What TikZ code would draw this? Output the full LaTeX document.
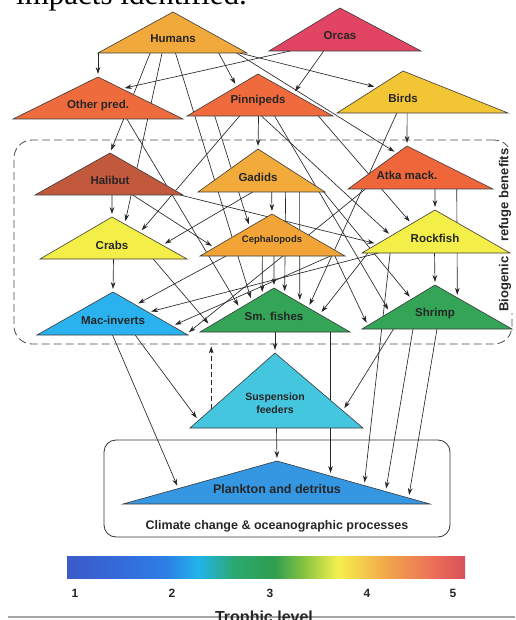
\documentclass[tikz,border=0pt]{standalone}
\usepackage{fontspec}
\setmainfont{Liberation Sans}
\newfontfamily\headserif{Liberation Serif}
\usepackage{xcolor}
\usetikzlibrary{arrows.meta, calc}

\pgfdeclarelayer{edges}
\pgfsetlayers{edges,main}

\definecolor{humcol}{HTML}{F2A93B}
\definecolor{orccol}{HTML}{E24563}
\definecolor{othcol}{HTML}{EE6B3E}
\definecolor{pincol}{HTML}{EF6A3C}
\definecolor{bircol}{HTML}{F2C535}
\definecolor{halcol}{HTML}{C2583C}
\definecolor{gadcol}{HTML}{F2AA3A}
\definecolor{atkcol}{HTML}{EE663A}
\definecolor{crbcol}{HTML}{F4EE48}
\definecolor{cepcol}{HTML}{F2A436}
\definecolor{roccol}{HTML}{F4EE48}
\definecolor{maccol}{HTML}{29B2EE}
\definecolor{smfcol}{HTML}{34A456}
\definecolor{shrcol}{HTML}{34A456}
\definecolor{suscol}{HTML}{45C6DF}
\definecolor{plkcol}{HTML}{3596E2}
\definecolor{outline}{HTML}{3A3A3A}

\definecolor{tla}{HTML}{3B5BC8}
\definecolor{tlb}{HTML}{3569D8}
\definecolor{tlc}{HTML}{2C7FE6}
\definecolor{tld}{HTML}{22B4EA}
\definecolor{tle}{HTML}{2BA870}
\definecolor{tlf}{HTML}{2E9E50}
\definecolor{tlg}{HTML}{8CC63F}
\definecolor{tlh}{HTML}{F5F04E}
\definecolor{tli}{HTML}{F2A84A}
\definecolor{tlj}{HTML}{EC6E58}
\definecolor{tlk}{HTML}{D8505A}
\pgfdeclarehorizontalshading{trophic}{100bp}{color(0bp)=(tla); color(25bp)=(tla);
  color(31bp)=(tlb); color(37.5bp)=(tlc); color(41.5bp)=(tld); color(46bp)=(tle);
  color(51bp)=(tlf); color(55bp)=(tlg); color(59bp)=(tlh); color(65bp)=(tli);
  color(71bp)=(tlj); color(75bp)=(tlk); color(100bp)=(tlk)}

% trophic group: name, apex x, apex y, base y, left x, right x, colour, label drop, label
\newcommand{\troph}[9]{%
  \coordinate (#1-a) at (#2,#3);
  \coordinate (#1-l) at (#5,#4);
  \coordinate (#1-r) at (#6,#4);
  \filldraw[tri, fill=#7] (#1-a) -- (#1-r) -- (#1-l) -- cycle;
  \node[lbl] (#1) at ($(#1-a |- #1-l)+(0,-#8)$) {#9};
}

\begin{document}
\begin{tikzpicture}[
    x=1pt, y=-1pt,
    tri/.style={draw=outline, line width=0.6pt, line join=miter},
    lbl/.style={font=\bfseries\fontsize{11.5}{13}\selectfont, text=black!85, align=center, inner sep=0pt},
    arr/.style={-{Stealth[length=7pt, width=4.6pt]}, line width=0.65pt, draw=black!85, shorten >=3pt},
    dasharr/.style={arr, dash pattern=on 5pt off 3pt, shorten >=2pt},
    refugebox/.style={draw=black!70, line width=0.8pt, dash pattern=on 8pt off 4pt, rounded corners=18pt},
    climatebox/.style={draw=black!80, line width=0.8pt, rounded corners=12pt},
    tick/.style={font=\bfseries\fontsize{12}{14}\selectfont, text=black!85}
]
\useasboundingbox (0,0) rectangle (515,620);

% cut caption lines of the page
\node[anchor=base west, font=\headserif\fontsize{31}{34}\selectfont, inner sep=0pt] (headline) at (16,5) {impacts identified.};

% boxes
\node[refugebox, minimum width=498pt, minimum height=204pt] (refuge) at (263,242) {};
\node[font=\bfseries\fontsize{13}{15}\selectfont, text=black!85, rotate=90, fill=white, inner sep=1.5pt] (refugelbl) at (505,230) {Biogenic\hspace{15pt}refuge benefits};
\node[climatebox, minimum width=346pt, minimum height=97pt] (climate) at (277,488.5) {};
\node[font=\bfseries\fontsize{12.5}{14}\selectfont, text=black!85] (climatelbl) at (277,526) {Climate change \& oceanographic processes};

% trophic groups
\troph{hum}{173}{12}{53}{98}{247}{humcol}{14}{Humans}
\troph{orc}{340}{8}{51}{269}{421}{orccol}{15}{Orcas}
\troph{oth}{98}{77}{119}{13}{183}{othcol}{13}{Other pred.}
\troph{pin}{258}{74}{116}{187}{333}{pincol}{15}{Pinnipeds}
\troph{bir}{403}{71}{113}{337}{508}{bircol}{15}{Birds}
\troph{hal}{110}{153}{195}{35}{183}{halcol}{15}{Halibut}
\troph{gad}{258}{149}{192}{198}{325}{gadcol}{15}{Gadids}
\troph{atk}{407}{146}{189}{348}{493}{atkcol}{14}{Atka mack.}
\troph{crb}{112}{217}{259}{40}{187}{crbcol}{14}{Crabs}
\troph{cep}{272}{214}{256}{200}{345}{cepcol}{16}{\fontsize{9.5}{11}\selectfont Cephalopods}
\troph{roc}{435}{210}{253}{362}{510}{roccol}{15}{Rockfish}
\troph{mac}{113}{292}{335}{37}{188}{maccol}{15}{Mac-inverts}
\troph{smf}{274}{288}{332}{200}{350}{smfcol}{16}{Sm. fishes}
\troph{shr}{435}{285}{329}{362}{512}{shrcol}{15}{Shrimp}
\troph{sus}{275}{353}{428}{190}{363}{suscol}{25}{\fontsize{10.5}{12.5}\selectfont Suspension\\ \fontsize{10.5}{12.5}\selectfont feeders}
\troph{plk}{277}{461}{504}{123}{430}{plkcol}{15}{\fontsize{12.5}{14}\selectfont Plankton and detritus}
\coordinate (susdash) at ($(sus-a)!0.75!(sus-l)$);

% feeding links
\begin{pgfonlayer}{edges}
\draw[arr] (hum-l) -- (oth-a);
\draw[arr] ($(orc-l)!0.14!(orc-r)$) -- ($(oth-a)!0.28!(oth-r)$);
\draw[arr] ($(hum-l)!0.81!(hum-r)$) -- ($(pin-a)!0.30!(pin-l)$);
\draw[arr] ($(orc-l)!0.36!(orc-r)$) -- ($(pin-a)!0.47!(pin-r)$);
\draw[arr] ($(hum-l)!0.95!(hum-r)$) -- ($(bir-a)!0.39!(bir-l)$);
\draw[arr] ($(hum-l)!0.35!(hum-r)$) -- (hal-a);
\draw[arr] ($(pin-l)!0.49!(pin-r)$) -- (gad-a);
\draw[arr] ($(hum-l)!0.93!(hum-r)$) -- ($(atk-a)!0.17!(atk-l)$);
\draw[arr] ($(bir-l)!0.41!(bir-r)$) -- (atk-a);
\draw[arr] ($(hal-l)!0.52!(hal-r)$) -- (crb-a);
\draw[arr] ($(hum-l)!0.43!(hum-r)$) -- ($(crb-a)!0.17!(crb-r)$);
\draw[arr] ($(pin-l)!0.36!(pin-r)$) -- ($(crb-a)!0.37!(crb-r)$);
\draw[arr] ($(gad-l)!0.43!(gad-r)$) -- ($(crb-a)!0.67!(crb-r)$);
\draw[arr] ($(oth-l)!0.67!(oth-r)$) -- ($(smf-a)!0.46!(smf-l)$);
\draw[arr] ($(hal-l)!0.66!(hal-r)$) -- ($(cep-a)!0.8!(cep-l)$);
\draw[arr] ($(hal-l)!0.98!(hal-r)$) -- ($(roc-a)!0.79!(roc-l)$);
\draw[arr] ($(gad-l)!0.58!(gad-r)$) -- (cep-a);
\draw[arr] ($(atk-l)!0.6!(atk-r)$) -- (roc-a);
\draw[arr] ($(atk-l)!0.75!(atk-r)$) -- ($(shr-a)!0.29!(shr-r)$);
\draw[arr] ($(pin-l)!0.51!(pin-r)$) -- ($(roc-a)!0.6!(roc-l)$);
\draw[arr] ($(pin-l)!0.9!(pin-r)$) -- ($(roc-a)!0.32!(roc-l)$);
\draw[arr] ($(pin-l)!0.19!(pin-r)$) -- ($(cep-a)!0.31!(cep-l)$);
\draw[arr] ($(hum-l)!0.52!(hum-r)$) -- ($(smf-a)!0.3!(smf-l)$);
\draw[arr] ($(crb-l)!0.5!(crb-r)$) -- (mac-a);
\draw[arr] ($(cep-l)!0.18!(cep-r)$) -- ($(mac-a)!0.3!(mac-r)$);
\draw[arr] ($(roc-l)!0.11!(roc-r)$) -- ($(mac-a)!0.47!(mac-r)$);
\draw[arr] ($(cep-l)!0.9!(cep-r)$) -- ($(mac-a)!0.79!(mac-r)$);
\draw[arr] ($(atk-l)!0.12!(atk-r)$) -- ($(mac-a)!0.98!(mac-r)$);
\draw[arr] ($(crb-l)!0.77!(crb-r)$) -- ($(smf-a)!0.86!(smf-l)$);
\draw[arr] ($(cep-l)!0.43!(cep-r)$) -- ($(smf-a)!0.16!(smf-l)$);
\draw[arr] ($(cep-l)!0.51!(cep-r)$) -- (smf-a);
\draw[arr] ($(gad-l)!0.69!(gad-r)$) -- ($(smf-a)!0.14!(smf-r)$);
\draw[arr] ($(gad-l)!0.8!(gad-r)$) -- ($(smf-a)!0.34!(smf-r)$);
\draw[arr] ($(bir-l)!0.35!(bir-r)$) -- ($(smf-a)!0.45!(smf-r)$);
\draw[arr] ($(roc-l)!0.04!(roc-r)$) -- ($(smf-a)!0.6!(smf-r)$);
\draw[arr] ($(roc-l)!0.49!(roc-r)$) -- (shr-a);
\draw[arr] ($(gad-l)!0.99!(gad-r)$) -- ($(shr-a)!0.32!(shr-l)$);
\draw[arr] ($(pin-l)!0.6!(pin-r)$) -- ($(shr-a)!0.62!(shr-l)$);
\draw[arr] ($(cep-l)!0.93!(cep-r)$) -- ($(shr-a)!0.92!(shr-l)$);
\draw[arr] ($(smf-l)!0.5!(smf-r)$) -- (sus-a);
\draw[arr] ($(mac-l)!0.65!(mac-r)$) -- ($(sus-a)!0.9!(sus-l)$);
\draw[arr] ($(shr-l)!0.21!(shr-r)$) -- ($(sus-a)!0.77!(sus-r)$);
\draw[arr] ($(sus-l)!0.5!(sus-r)$) -- (plk-a);
\draw[arr] ($(smf-l)!0.87!(smf-r)$) -- ($(plk-a)!0.35!(plk-r)$);
\draw[arr] ($(mac-l)!0.5!(mac-r)$) -- ($(plk-a)!0.64!(plk-l)$);
\draw[arr] ($(roc-l)!0.19!(roc-r)$) -- ($(plk-a)!0.57!(plk-r)$);
\draw[arr] ($(shr-l)!0.34!(shr-r)$) -- ($(plk-a)!0.71!(plk-r)$);
\draw[arr] ($(shr-l)!0.5!(shr-r)$) -- ($(plk-a)!0.86!(plk-r)$);
\draw[dasharr] (susdash) -- (susdash |- refuge.south);
\end{pgfonlayer}

% trophic level scale
\node[shading=trophic, minimum width=398pt, minimum height=22pt, inner sep=0pt] (scalebar) at (266,567) {};
\foreach \lv/\xx in {1/75, 2/172, 3/270, 4/367, 5/453}
  \node[tick] (tick\lv) at (\xx,593) {\lv};
\draw[black!35, line width=1.2pt] (8,617) -- (515,617);
\node[anchor=base, font=\bfseries\fontsize{16}{18}\selectfont, text=black!85, inner sep=0pt] (scalelbl) at (264,622) {Trophic level};
\end{tikzpicture}
\end{document}
